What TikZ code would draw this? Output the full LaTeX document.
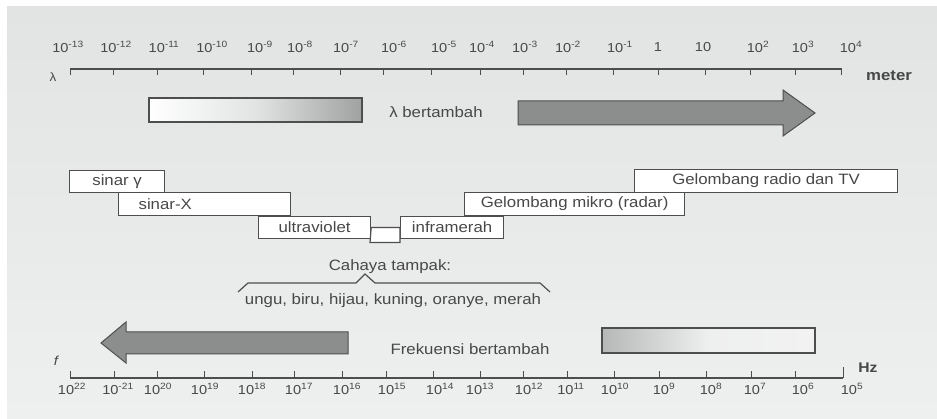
\documentclass[tikz,border=0pt]{standalone}
\usepackage{fontspec}
\setmainfont{Liberation Sans}[FakeStretch=1.12]
\usetikzlibrary{calc}
\definecolor{bgtop}{RGB}{226,228,228}
\definecolor{bgbot}{RGB}{238,239,239}
\definecolor{ink}{RGB}{72,72,72}
\definecolor{edge}{RGB}{78,78,78}
\definecolor{arrowfill}{RGB}{140,141,141}
\definecolor{shadedark}{RGB}{160,162,162}
\definecolor{shademid}{RGB}{182,184,184}
\definecolor{shadelight}{RGB}{242,242,242}
\newcommand\pw[1]{10\textsuperscript{#1}}
\begin{document}
\begin{tikzpicture}[x=1pt,y=-1pt,
  band/.style={draw=edge, fill=white, line width=1.2pt, inner sep=0pt,
    minimum height=22pt, font=\fontsize{15}{18}\selectfont, text=ink, anchor=north west},
  axisline/.style={draw=edge, line width=1.3pt},
  ticklab/.style={font=\fontsize{13}{15}\selectfont, text=ink, inner sep=0pt},
  caption/.style={font=\fontsize{15}{18}\selectfont, text=ink, inner sep=0pt},
  unitlab/.style={font=\fontsize{15}{18}\selectfont\bfseries, text=ink, inner sep=0pt},
  bigarrow/.style={draw=edge, line width=1pt, fill=arrowfill},
  gradbox/.style={draw=edge, line width=1.2pt}
]
\useasboundingbox (0,0) rectangle (937,419);
\fill[white] (0,0) rectangle (937,419);
\shade[top color=bgtop, bottom color=bgbot] (7,7) rectangle (937,419);

% top wavelength axis
\coordinate (tl) at (70,69);
\coordinate (tr) at (841,69);
\draw[axisline] (tl) -- (tr);
\foreach \x in {70,113,157,203,251,293,340,383,431,480,523,566,613,658,705,750,795,841}
  \draw[axisline, line width=1pt] (\x,68) -- (\x,75);
\foreach \x/\t [count=\i] in {68/\pw{-13},116/\pw{-12},164/\pw{-11},212/\pw{-10},260/\pw{-9},300/\pw{-8},346/\pw{-7},394/\pw{-6},444/\pw{-5},482/\pw{-4},525/\pw{-3},568/\pw{-2},620/\pw{-1},658/1,703/10,758/\pw{2},803/\pw{3},851/\pw{4}}
  \node[ticklab] (tlab\i) at (\x,47) {\t};
\node[font=\fontsize{12}{14}\selectfont, text=ink, inner sep=0pt] (lam) at (53,77) {λ};
\node[unitlab] (meter) at (889,76) {meter};

% top arrow row
\draw[gradbox, left color=white, right color=shadedark, middle color=bgtop] (149,98) rectangle (362,122);
\node[caption] (lb) at (436,112) {λ bertambah};
\draw[bigarrow] (518,101) -- (783,101) -- (783,90) -- (815,113) -- (783,136) -- (783,125) -- (518,125) -- cycle;

% bands
\node[band, minimum width=95pt] (gam) at (69,170) {sinar γ};
\node[band, minimum width=172pt, minimum height=23pt, inner xsep=20pt, text width=132pt, align=left] (sx) at (118,192) {sinar-X};
\node[band, minimum width=112pt] (uv) at (258,216) {ultraviolet};
\node[band, minimum width=103pt] (ir) at (400,216) {inframerah};
\node[band, minimum width=220pt, minimum height=23pt] (mw) at (464,192) {Gelombang mikro (radar)};
\node[band, minimum width=263pt, minimum height=23pt] (rad) at (634,169) {Gelombang radio dan TV};
\draw[draw=edge, line width=1.2pt, fill=white] (uv.east) -- (ir.west) -- ++(0,15) -- ++(-30,0) -- cycle;

% visible light
\node[caption] (vis) at (390,267) {Cahaya tampak:};
\draw[draw=edge, line width=1.2pt] (238,292) -- (248,283) -- (356,283) -- (365,274) -- (375,283) -- (540,283) -- (550,292);
\node[caption] (cols) at (393,301) {ungu, biru, hijau, kuning, oranye, merah};

% bottom arrow row
\draw[bigarrow] (348,332) -- (126,332) -- (126,322) -- (101,343) -- (126,363) -- (126,354) -- (348,354) -- cycle;
\node[caption] (fb) at (470,349) {Frekuensi bertambah};
\draw[gradbox, left color=shademid, right color=shadelight, middle color=bgbot] (602,328) rectangle (815,353);

% bottom frequency axis
\coordinate (bl) at (70,378);
\coordinate (br) at (843,378);
\draw[axisline] (bl) -- (br);
\foreach \x in {70,114,157,204,252,294,342,386,433,480,523,567,614,659,706,751,795}
  \draw[axisline, line width=1pt] (\x,378) -- (\x,371);
\draw[axisline, line width=1pt] (843,378) -- (843,367);
\foreach \x/\t [count=\i] in {72/\pw{22},118/\pw{-21},158/\pw{20},205/\pw{19},252/\pw{18},299/\pw{17},347/\pw{16},392/\pw{15},440/\pw{14},480/\pw{13},529/\pw{12},571/\pw{11},615/\pw{10},664/\pw{9},711/\pw{8},755/\pw{7},803/\pw{6},852/\pw{5}}
  \node[ticklab] (blab\i) at (\x,389) {\t};
\node[font=\fontsize{13}{15}\selectfont\itshape, text=ink, inner sep=0pt] (f) at (56,361) {f};
\node[unitlab, font=\fontsize{14}{16}\selectfont\bfseries] (hz) at (868,368) {Hz};
\end{tikzpicture}
\end{document}
